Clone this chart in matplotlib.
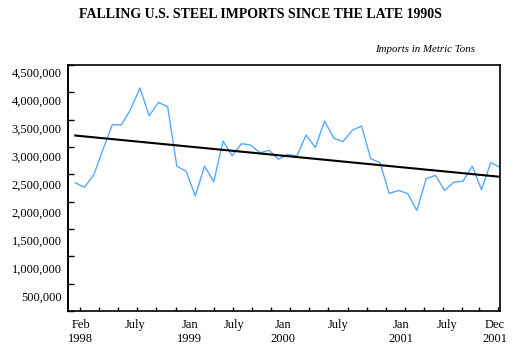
import numpy as np
import matplotlib
matplotlib.use("Agg")
import matplotlib.pyplot as plt
from matplotlib.ticker import FuncFormatter

plt.rcParams['font.family'] = ['Liberation Serif', 'DejaVu Serif']

# monthly steel imports, Feb 1998 .. Dec 2001 (metric tons)
imports = [2345000, 2265000, 2490000, 2955000, 3405000, 3405000, 3690000, 4080000,
           3570000, 3815000, 3740000, 2650000, 2555000, 2105000, 2650000, 2365000,
           3110000, 2840000, 3060000, 3035000, 2895000, 2940000, 2775000, 2865000,
           2835000, 3220000, 2990000, 3475000, 3160000, 3100000, 3305000, 3385000,
           2785000, 2715000, 2150000, 2205000, 2150000, 1840000, 2420000, 2480000,
           2205000, 2355000, 2375000, 2650000, 2220000, 2715000, 2630000]
# trend line end points
trend = [3210000, 2455000]

xlabels = ["Feb\n1998", "July", "Jan\n1999", "July", "Jan\n2000", "July",
           "Jan\n2001", "July", "Dec\n2001"]
xlabel_pos = [0.6, 6.5, 12.4, 17.2, 22.5, 28.5, 35.3, 40.3, 45.4]
ylabel_vals = [500000, 1000000, 1500000, 2000000, 2500000, 3000000,
               3500000, 4000000, 4500000]

x = np.arange(len(imports))

fig = plt.figure(figsize=(5.17, 3.52), dpi=100)
ax = fig.add_axes([68/517, 41/352, 432/517, 246/352])

ax.plot(x, imports, color='#55aaff', lw=1)
ax.plot([x[0], x[-1]], trend, color='black', lw=1.5)

ax.set_xlim(-0.79, 46.0)
ax.set_ylim(0, 4500000)

for s in ax.spines.values():
    s.set_linewidth(1.2)

# tick marks (the labels in the original sit a bit off them)
ax.set_yticks(np.arange(0, 4500001, 500000))
ax.set_yticklabels([])
ax.tick_params(axis='y', direction='in', length=4, width=1)

minor = list(np.arange(0.51, 42.5, 2.07)) + [43.72, 45.78]
ax.set_xticks(minor, minor=True)
ax.set_xticks(xlabel_pos, xlabels)
ax.tick_params(axis='x', which='major', length=0, pad=6, labelsize=9)
ax.tick_params(axis='x', which='minor', direction='in', length=3, width=1)

sec = ax.secondary_yaxis('left', functions=(lambda v: 245000 + v*4.392/4.5,
                                            lambda u: (u - 245000)*4.5/4.392))
sec.set_yticks(ylabel_vals)
sec.yaxis.set_major_formatter(FuncFormatter(lambda v, p: f"{int(round(v)):,}"))
sec.tick_params(length=0, pad=4.5, labelsize=9)
sec.spines['left'].set_linewidth(1.2)

fig.text(260/517, 1 - 15/352, "FALLING U.S. STEEL IMPORTS SINCE THE LATE 1990S",
         ha='center', va='center', fontweight='bold', fontsize=10)
fig.text(475/517, 1 - 49/352, "Imports in Metric Tons",
         ha='right', va='center', style='italic', fontsize=7.8)

fig.savefig("out.png", dpi=100)
